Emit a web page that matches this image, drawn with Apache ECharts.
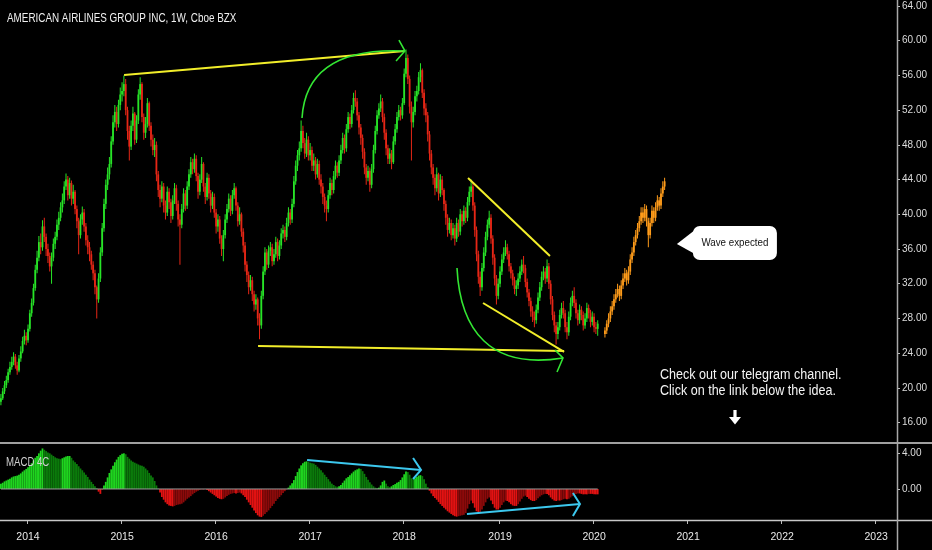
<!DOCTYPE html>
<html><head><meta charset="utf-8">
<script src="https://cdn.jsdelivr.net/npm/echarts@6/dist/echarts.min.js"></script>
<style>html,body{margin:0;padding:0;background:#000;}#c{width:932px;height:550px;}</style>
</head><body><div id="c"></div>
<script>
// ---- axis / categories ----
const startWeekUTC = Date.UTC(2013, 8, 23);
const weekCount = 496;
const priceTicks = [16, 20, 24, 28, 32, 36, 40, 44, 48, 52, 56, 60, 64];
const macdTicks = [0, 4];

// ---- weekly price (open = previous close) ----
const firstOpen = 18.4;
const close = [
18.8,19.6,20.3,20.9,21.8,22.4,23.0,23.6,22.6,22.0,
23.4,24.2,25.4,26.0,25.5,26.8,28.6,29.8,31.5,33.6,
35.0,36.8,36.2,38.6,37.4,36.0,35.2,34.0,35.0,36.6,
37.4,38.8,39.6,40.8,41.6,43.2,44.0,42.2,43.6,41.8,
42.6,40.6,39.2,37.6,39.4,40.2,38.6,37.0,36.2,35.4,
34.2,33.2,31.6,30.2,32.6,35.6,38.4,41.2,43.4,44.6,
45.8,48.4,50.6,51.8,50.4,52.6,53.8,54.2,55.0,52.0,
49.6,47.8,50.2,51.6,48.6,50.8,53.8,55.0,51.2,49.4,
50.4,52.8,50.2,48.6,47.4,48.0,44.6,42.8,41.8,43.2,
41.0,40.2,42.6,41.4,39.8,41.6,43.0,41.2,39.4,38.8,
40.6,42.4,41.0,43.2,44.6,46.0,45.2,46.4,44.4,42.6,
44.0,45.8,43.2,42.0,44.2,42.4,41.0,42.0,40.2,38.6,
39.4,37.2,36.0,37.6,39.4,40.6,41.8,40.4,42.2,43.0,
41.0,39.2,40.0,38.0,36.4,34.2,33.0,31.6,32.4,30.8,
29.6,30.2,28.0,27.2,30.6,33.4,35.6,34.2,35.8,36.2,
34.6,35.4,36.8,35.2,36.4,37.8,38.2,37.4,39.0,40.2,
39.4,41.2,43.8,45.6,46.8,47.6,49.6,48.2,47.0,48.6,
46.8,47.4,45.6,46.2,44.6,45.8,44.0,43.2,42.0,41.0,
40.6,42.2,43.6,42.8,44.4,45.6,44.8,46.2,47.4,48.8,
47.6,49.8,51.2,50.4,52.0,53.4,53.0,51.4,50.0,48.8,
47.2,45.4,44.2,45.0,43.4,45.2,47.4,49.6,51.4,52.2,
53.0,51.2,49.4,47.6,46.4,47.0,46.0,48.4,49.8,51.2,
52.0,51.4,52.8,56.2,58.0,55.6,52.4,50.6,51.8,53.6,
54.2,55.8,56.6,54.0,52.2,51.4,49.2,47.0,45.4,44.2,
43.0,44.6,42.4,44.0,42.8,41.2,39.6,38.2,39.0,37.6,
38.4,37.2,39.0,38.0,40.0,39.2,40.4,39.6,41.4,42.6,
43.2,41.0,38.2,35.4,32.8,31.6,33.8,35.6,37.4,38.8,
39.6,37.2,35.0,32.6,30.6,32.0,33.4,34.8,35.6,36.2,
35.4,34.0,33.2,32.4,31.4,31.8,32.6,33.4,34.2,33.8,
32.2,31.0,30.0,28.8,28.2,27.8,29.0,30.4,31.6,32.8,
33.4,32.6,34.0,32.0,30.2,28.4,27.2,26.2,27.0,28.4,
29.2,28.6,27.0,26.4,28.2,29.8,30.6,29.8,28.6,27.8,
29.0,28.4,27.2,28.0,29.2,28.6,27.6,28.2,27.0,26.8,
27.4];
const low = [
18.0,18.6,19.3,20.0,20.6,21.5,22.1,22.6,22.2,21.5,
21.8,23.0,24.0,25.0,24.9,25.2,26.5,28.2,29.5,31.2,
33.2,34.6,35.4,35.8,36.8,35.2,34.4,33.4,32.0,34.6,
36.0,37.0,38.2,39.2,40.2,41.2,42.8,41.6,41.8,41.0,
41.2,40.0,38.4,35.4,37.2,38.8,38.0,36.4,35.4,34.6,
33.6,32.4,30.8,28.0,29.8,32.2,35.2,38.0,40.6,42.8,
44.0,45.4,48.0,50.0,49.6,50.0,52.0,53.0,53.6,51.4,
48.6,46.2,47.4,49.6,48.0,48.2,50.4,53.2,50.6,48.6,
48.8,50.0,49.6,47.8,46.8,46.6,43.8,42.0,40.8,41.4,
40.2,39.4,39.8,40.6,39.0,39.4,41.2,40.4,38.6,34.2,
38.4,40.2,40.4,40.6,42.8,44.2,44.6,44.8,43.8,41.8,
42.2,43.6,42.6,41.2,41.6,41.8,40.2,40.6,39.6,37.8,
38.0,36.6,35.2,34.6,37.2,39.0,40.2,39.8,40.0,41.8,
40.4,38.6,38.8,37.4,35.6,33.4,32.2,30.8,31.2,30.0,
28.8,29.0,27.2,25.6,26.8,30.2,33.0,33.6,33.8,35.2,
34.0,34.2,35.0,34.6,34.8,36.0,37.2,36.8,37.0,38.6,
38.8,39.0,40.8,43.4,45.0,46.2,47.2,47.6,46.4,46.6,
46.2,46.2,45.0,45.0,44.0,44.2,43.4,42.4,41.2,40.2,
39.2,40.2,41.8,42.2,42.4,44.0,44.2,44.4,45.8,47.0,
47.0,47.2,49.4,49.8,50.0,51.6,52.4,50.8,49.2,48.0,
46.4,44.6,43.4,43.8,42.6,43.0,44.8,47.0,49.2,51.0,
51.8,50.6,48.6,46.8,45.8,45.8,45.2,45.8,48.0,49.4,
50.8,50.8,51.0,52.6,55.8,55.0,51.6,46.2,50.0,51.4,
53.0,53.8,55.2,53.4,51.4,50.6,48.4,46.2,44.6,43.4,
42.2,42.6,41.6,42.0,42.2,40.4,38.8,37.4,37.8,37.0,
37.2,36.4,36.8,37.4,37.6,38.6,38.8,39.0,39.2,41.0,
42.0,40.4,37.4,34.6,32.0,30.6,31.2,33.4,35.2,37.0,
38.4,36.6,34.2,31.8,29.6,30.2,31.6,33.0,34.4,35.2,
34.8,33.4,32.6,31.8,30.8,30.6,31.4,32.2,33.0,33.2,
31.6,30.4,29.4,28.2,27.6,27.0,27.4,28.6,30.0,31.2,
32.4,32.0,32.2,31.4,29.6,27.8,26.4,25.0,25.6,26.6,
28.0,28.0,26.4,25.6,26.0,27.8,29.4,29.2,28.0,27.2,
27.4,27.8,26.6,26.8,27.6,28.0,27.0,27.2,26.4,26.2,
26.0];
const high = [
19.3,20.0,20.8,21.4,22.2,23.0,23.6,24.1,23.9,23.0,
23.8,24.8,25.9,26.7,26.4,27.3,29.0,30.3,32.0,34.2,
35.8,37.5,37.8,39.3,39.6,37.8,36.6,35.6,35.6,37.2,
38.0,39.4,40.3,41.4,42.4,43.8,44.7,44.4,44.2,43.9,
43.4,42.8,41.0,39.6,40.0,40.9,40.6,39.0,37.6,36.8,
35.8,34.6,33.6,31.8,33.2,36.2,39.0,41.8,44.0,45.4,
46.6,49.0,51.4,52.6,52.4,53.2,54.6,55.2,56.0,55.6,
52.4,50.2,50.8,52.4,51.8,51.4,54.4,55.8,55.2,51.6,
51.2,53.4,53.0,50.6,49.2,48.8,48.4,45.0,43.4,43.8,
43.6,41.6,43.2,43.0,41.8,42.2,43.6,43.4,41.6,40.0,
41.2,43.0,42.8,43.8,45.2,46.6,46.4,47.0,46.8,44.8,
44.6,46.6,46.0,43.6,44.8,44.6,42.8,42.6,42.4,40.6,
40.0,39.8,37.6,38.2,40.0,41.2,42.4,42.2,42.8,43.6,
43.2,41.4,40.8,40.2,38.4,36.8,34.6,33.4,33.0,32.8,
31.2,30.8,30.4,28.6,31.2,34.0,36.2,36.0,36.4,36.8,
36.6,36.0,37.4,37.2,37.0,38.4,38.8,38.6,39.6,40.8,
40.6,41.8,44.4,46.2,47.4,48.4,50.8,50.2,48.8,49.4,
49.0,48.2,47.8,47.0,46.6,46.4,46.2,44.6,43.6,42.4,
41.6,42.8,44.2,44.0,45.0,46.2,46.0,46.8,48.0,49.4,
49.2,50.4,51.8,51.6,52.6,54.0,54.3,53.4,51.8,50.4,
49.2,47.6,45.8,45.6,45.4,45.8,48.0,50.2,52.0,52.8,
53.8,53.4,51.6,49.8,48.0,47.6,47.4,49.0,50.4,51.8,
52.6,52.4,53.4,56.8,59.0,58.4,56.0,53.0,52.4,54.2,
54.8,56.4,57.4,56.8,54.4,52.8,51.8,49.6,47.4,45.8,
44.6,45.4,44.8,44.6,44.4,43.0,41.6,40.0,39.6,39.4,
39.0,38.8,39.6,39.4,40.6,40.4,41.0,40.8,42.0,43.2,
44.0,43.6,41.4,38.6,35.8,33.4,34.4,36.2,38.0,39.4,
40.4,40.0,37.6,35.4,33.0,32.6,34.0,35.4,36.2,37.0,
36.6,35.8,34.4,33.6,32.8,32.4,33.2,34.0,34.8,35.2,
34.2,32.6,31.4,30.4,29.4,28.8,29.6,31.0,32.2,33.4,
34.0,33.8,34.8,34.4,32.4,30.6,28.8,27.6,27.6,29.0,
29.8,30.0,29.0,27.6,28.8,30.4,31.2,31.6,30.2,29.0,
29.6,29.4,28.8,28.6,29.8,29.6,29.0,28.8,28.6,27.6,
27.8];

// ---- projected wave (orange) ----
const projStart = 334;
const projOpen = 26.2;
const projClose = [26.6,27.4,28.0,28.8,29.4,30.2,30.8,31.4,30.6,31.8,32.6,33.2,32.4,33.4,34.8,35.6,36.8,37.6,38.4,39.2,40.2,39.6,40.6,39.2,37.6,39.0,40.4,39.6,40.8,41.6,41.0,42.4,43.2,43.8];
const projLow   = [25.8,26.2,27.0,27.6,28.4,29.0,29.8,30.4,30.0,30.2,31.4,32.2,31.8,32.0,33.0,34.4,35.2,36.4,37.2,38.0,38.8,39.0,39.2,38.6,36.2,37.2,38.6,39.0,39.2,40.4,40.4,40.6,42.0,42.8];
const projHigh  = [27.0,27.8,28.6,29.4,30.0,30.8,31.4,32.0,31.8,32.4,33.2,33.8,33.6,34.0,35.4,36.2,37.4,38.2,39.0,39.8,40.8,40.8,41.2,41.0,39.6,39.6,41.0,40.8,41.4,42.2,42.0,43.0,43.8,44.2];

// ---- MACD 4C histogram ----
const macd = [
0.6,0.7,0.85,0.95,1.05,1.15,1.3,1.4,1.45,1.5,
1.6,1.75,1.95,2.1,2.25,2.45,2.6,2.9,3.2,3.5,
3.7,4.0,4.3,4.55,4.4,4.25,4.1,4.0,3.85,3.7,
3.55,3.45,3.4,3.35,3.45,3.55,3.65,3.7,3.7,3.5,
3.2,3.0,2.8,2.55,2.3,2.1,1.85,1.6,1.35,1.05,
0.8,0.55,0.3,0.1,-0.3,-0.55,-0.1,0.4,0.8,1.3,
1.8,2.2,2.6,3.0,3.3,3.6,3.8,3.95,4.0,3.9,
3.6,3.4,3.2,3.05,2.95,2.85,2.75,2.65,2.6,2.5,
2.3,2.1,1.8,1.5,1.3,0.9,0.4,0.05,-0.4,-0.9,
-1.2,-1.5,-1.7,-1.85,-1.9,-1.95,-1.9,-1.8,-1.75,-1.7,
-1.65,-1.5,-1.3,-1.1,-0.95,-0.8,-0.6,-0.45,-0.3,-0.2,
-0.1,-0.05,-0.05,-0.02,-0.1,-0.25,-0.4,-0.55,-0.7,-0.85,
-1.0,-1.1,-1.15,-1.1,-0.95,-0.8,-0.65,-0.55,-0.5,-0.45,
-0.5,-0.45,-0.4,-0.5,-0.7,-0.9,-1.2,-1.5,-1.8,-2.1,
-2.4,-2.7,-2.95,-3.1,-3.15,-3.0,-2.8,-2.6,-2.4,-2.15,
-1.9,-1.65,-1.35,-1.1,-0.9,-0.7,-0.45,-0.25,-0.05,0.15,
0.4,0.65,1.0,1.45,1.9,2.3,2.65,2.9,3.05,3.1,
3.05,2.95,2.9,2.85,2.7,2.5,2.3,2.1,1.85,1.6,
1.35,1.1,0.85,0.6,0.45,0.3,0.25,0.3,0.45,0.7,
0.95,1.2,1.35,1.55,1.75,1.95,2.1,2.2,2.3,2.25,
2.0,1.7,1.35,1.05,0.75,0.5,0.3,0.15,0.1,0.15,
0.4,0.8,0.95,0.6,0.3,0.2,0.3,0.45,0.55,0.7,
0.8,1.0,1.3,1.65,1.95,1.9,1.6,1.2,1.1,1.2,
1.35,1.5,1.55,1.45,1.1,0.6,0.2,-0.2,-0.5,-0.8,
-1.0,-1.2,-1.45,-1.7,-1.9,-2.1,-2.3,-2.5,-2.65,-2.8,
-2.95,-3.05,-3.1,-3.05,-3.0,-2.95,-2.9,-2.7,-2.2,-1.7,
-1.3,-1.6,-2.1,-2.5,-2.7,-2.6,-2.3,-1.9,-1.5,-1.1,
-0.95,-1.3,-1.7,-2.1,-2.3,-2.3,-2.1,-1.8,-1.5,-1.3,
-1.35,-1.5,-1.7,-1.85,-1.9,-1.9,-1.7,-1.4,-1.1,-0.85,
-0.75,-0.9,-1.1,-1.25,-1.35,-1.35,-1.25,-1.05,-0.85,-0.7,
-0.6,-0.55,-0.55,-0.7,-0.95,-1.15,-1.3,-1.35,-1.3,-1.3,
-1.25,-1.15,-1.1,-1.15,-1.1,-0.95,-0.8,-0.65,-0.55,-0.5,
-0.5,-0.55,-0.6,-0.6,-0.6,-0.55,-0.55,-0.55,-0.6,-0.6,
-0.6];

// ---- drawn annotations, in data coordinates [week index, value] ----
const topTrend = [[68.1, 56.05], [223.4, 58.82]];
const bottomTrend = [[142.2, 24.83], [311.4, 24.25]];
const wedgeUpper = [[258.3, 44.18], [303.6, 35.2]];
const wedgeLower = [[266.6, 29.78], [311.4, 24.14]];
const arcTop = [[166.5, 51.1], [168.1, 56.63], [187.5, 59.16], [223.4, 58.82]];
const arcTopHead = [[220.1, 60.08], [223.4, 58.82], [218.5, 57.66]];
const arcBottom = [[252.2, 33.82], [253.9, 26.67], [270.4, 22.06], [310.8, 23.45]];
const arcBottomHead = [[306.4, 24.37], [310.8, 23.45], [307.5, 21.83]];
const macdArrowTop = [[169.3, 3.25], [232.3, 2.13]];
const macdArrowTopHead = [[227.9, 3.48], [232.3, 2.13], [227.9, 1.12]];
const macdArrowBottom = [[257.7, -2.80], [320.2, -1.68]];
const macdArrowBottomHead = [[316.3, -0.45], [320.2, -1.68], [316.3, -3.03]];
const calloutTip = [373.8, 36.58];
const macdZeroSpan = [0, 330];

// ---- build ----
const categories = [];
for (let k = 0; k < weekCount; k++) {
  categories.push(new Date(startWeekUTC + k * 7 * 86400000).toISOString().slice(0, 10));
}
const firstWeekOfYear = v => v.slice(5, 7) === '01' && +v.slice(8, 10) <= 7;

const candles = close.map((c, i) => {
  const o = i === 0 ? firstOpen : close[i - 1];
  return [i, o, c, Math.min(low[i], o, c), Math.max(high[i], o, c)];
});
const projCandles = projClose.map((c, k) => {
  const o = k === 0 ? projOpen : projClose[k - 1];
  return [projStart + k, o, c, Math.min(projLow[k], o, c), Math.max(projHigh[k], o, c)];
});
const macdBars = macd.map((v, i) => {
  const p = i === 0 ? v : macd[i - 1];
  let col;
  if (v >= 0) col = v >= p ? '#1fd41f' : '#0b7a0b';
  else col = v <= p ? '#e21212' : '#8c0a0a';
  return { value: [i, v], itemStyle: { color: col } };
});

const FONT = '"Liberation Sans", Arial, sans-serif';
const UP = '#27e427', DOWN = '#e62616', ORANGE = '#ff9c1a';

function candleRenderer(upCol, downCol) {
  return function (params, api) {
    const i = api.value(0), o = api.value(1), c = api.value(2), l = api.value(3), h = api.value(4);
    const pO = api.coord([i, o]), pC = api.coord([i, c]);
    const pL = api.coord([i, l]), pH = api.coord([i, h]);
    const col = c >= o ? upCol : downCol;
    const cx = pO[0];
    const top = Math.min(pO[1], pC[1]);
    const bh = Math.max(1, Math.abs(pO[1] - pC[1]));
    return {
      type: 'group',
      children: [
        { type: 'rect', shape: { x: cx - 0.5, y: pH[1], width: 1, height: pL[1] - pH[1] }, style: { fill: col } },
        { type: 'rect', shape: { x: cx - 0.9, y: top, width: 1.8, height: bh }, style: { fill: col } }
      ]
    };
  };
}

const chart = echarts.init(document.getElementById('c'), null, { renderer: 'canvas' });
chart.setOption({
  backgroundColor: '#000',
  animation: false,
  grid: [
    { left: 0, right: 35, top: 0, height: 443 },
    { left: 0, right: 35, top: 443, height: 77 }
  ],
  xAxis: [
    { type: 'category', gridIndex: 0, data: categories, show: false },
    {
      type: 'category', gridIndex: 1, data: categories,
      axisLine: { show: false, onZero: false },
      axisTick: { show: true, interval: (i, v) => firstWeekOfYear(v), length: 4, lineStyle: { color: '#bdbdbd' } },
      axisLabel: { interval: (i, v) => firstWeekOfYear(v), formatter: v => v.slice(0, 4), color: '#e8e8e8', fontSize: 10.5, fontFamily: FONT, margin: 12 },
      splitLine: { show: false }
    }
  ],
  yAxis: [
    {
      type: 'value', gridIndex: 0, position: 'right', min: 13.65, max: 64.69,
      axisLine: { show: false },
      axisTick: { show: true, customValues: priceTicks, length: 3, lineStyle: { color: '#bdbdbd' } },
      axisLabel: { customValues: priceTicks, formatter: v => v.toFixed(2), color: '#dcdcdc', fontSize: 10, fontFamily: FONT, margin: 5 },
      splitLine: { show: false }
    },
    {
      type: 'value', gridIndex: 1, position: 'right', min: -3.48, max: 5.16,
      axisLine: { show: false },
      axisTick: { show: true, customValues: macdTicks, length: 3, lineStyle: { color: '#bdbdbd' } },
      axisLabel: { customValues: macdTicks, formatter: v => v.toFixed(2), color: '#dcdcdc', fontSize: 10, fontFamily: FONT, margin: 5 },
      splitLine: { show: false }
    }
  ],
  series: [
    {
      type: 'custom', xAxisIndex: 0, yAxisIndex: 0, data: candles,
      encode: { x: 0, y: [1, 2, 3, 4] }, renderItem: candleRenderer(UP, DOWN)
    },
    {
      type: 'custom', xAxisIndex: 0, yAxisIndex: 0, data: projCandles,
      encode: { x: 0, y: [1, 2, 3, 4] }, renderItem: candleRenderer(ORANGE, ORANGE)
    },
    {
      type: 'bar', xAxisIndex: 1, yAxisIndex: 1, data: macdBars,
      barWidth: '100%', barCategoryGap: 0
    }
  ]
});

// ---- overlay drawings ----
function px(g, pt) {
  const a = chart.convertToPixel({ gridIndex: g }, [0, pt[1]]);
  const b = chart.convertToPixel({ gridIndex: g }, [100, pt[1]]);
  return [a[0] + (b[0] - a[0]) * pt[0] / 100, a[1]];
}
function seg(g, pts, color, w) {
  const p = pts.map(q => px(g, q));
  return { type: 'polyline', z: 100, shape: { points: p }, style: { stroke: color, lineWidth: w, fill: null } };
}
function bez(g, pts, color, w) {
  const p = pts.map(q => px(g, q));
  return { type: 'bezierCurve', z: 100, shape: { x1: p[0][0], y1: p[0][1], cpx1: p[1][0], cpy1: p[1][1], cpx2: p[2][0], cpy2: p[2][1], x2: p[3][0], y2: p[3][1] }, style: { stroke: color, lineWidth: w, fill: null } };
}
function txt(x, y, text, size, color, sx, align, va, lh) {
  const st = { text: text, fill: color, font: size + 'px ' + FONT, align: align || 'left', verticalAlign: va || 'middle' };
  if (lh) st.lineHeight = lh;
  return { type: 'text', x: x, y: y, scaleX: sx, z: 120, style: st };
}
const YEL = '#f2ee2a', GRN = '#33e633', CYAN = '#3cc8ee';
const tip = px(0, calloutTip);
const tx = tip[0], ty = tip[1];
chart.setOption({ graphic: [
  { type: 'line', z: 90, shape: { x1: 0, y1: 443, x2: 932, y2: 443 }, style: { stroke: '#d6d6d6', lineWidth: 1.5 } },
  { type: 'line', z: 90, shape: { x1: 0, y1: 520.5, x2: 932, y2: 520.5 }, style: { stroke: '#c8c8c8', lineWidth: 1.5 } },
  { type: 'line', z: 90, shape: { x1: 897.5, y1: 0, x2: 897.5, y2: 550 }, style: { stroke: '#a8a8a8', lineWidth: 1.5 } },
  seg(1, [[macdZeroSpan[0], 0], [macdZeroSpan[1], 0]], '#9a9a9a', 1),
  seg(0, topTrend, YEL, 2),
  seg(0, bottomTrend, YEL, 2),
  seg(0, wedgeUpper, YEL, 2),
  seg(0, wedgeLower, YEL, 2),
  bez(0, arcTop, GRN, 1.6),
  seg(0, arcTopHead, GRN, 1.6),
  bez(0, arcBottom, GRN, 1.6),
  seg(0, arcBottomHead, GRN, 1.6),
  seg(1, macdArrowTop, CYAN, 2),
  seg(1, macdArrowTopHead, CYAN, 2),
  seg(1, macdArrowBottom, CYAN, 2),
  seg(1, macdArrowBottomHead, CYAN, 2),
  txt(7, 19, 'AMERICAN AIRLINES GROUP INC, 1W, Cboe BZX', 12.5, '#f0f0f0', 0.79),
  txt(6, 463, 'MACD 4C', 12.5, '#d0d0d0', 0.77),
  { type: 'polygon', z: 110, shape: { points: [[tx, ty], [tx + 18, ty - 14], [tx + 18, ty + 10]] }, style: { fill: '#ffffff' } },
  { type: 'rect', z: 110, shape: { x: tx + 16, y: ty - 18, width: 84, height: 34, r: 7 }, style: { fill: '#ffffff' } },
  txt(tx + 58, ty - 1, 'Wave expected', 11.5, '#111111', 0.85, 'center'),
  txt(660, 367, 'Check out our telegram channel.\nClick on the link below the idea.', 15.5, '#f4f4f4', 0.81, 'left', 'top', 16),
  { type: 'polygon', z: 110, shape: { points: [[733.4, 410], [736.6, 410], [736.6, 417], [741, 417], [735, 424.5], [729, 417], [733.4, 417]] }, style: { fill: '#ffffff' } }
] });
</script>
</body></html>
